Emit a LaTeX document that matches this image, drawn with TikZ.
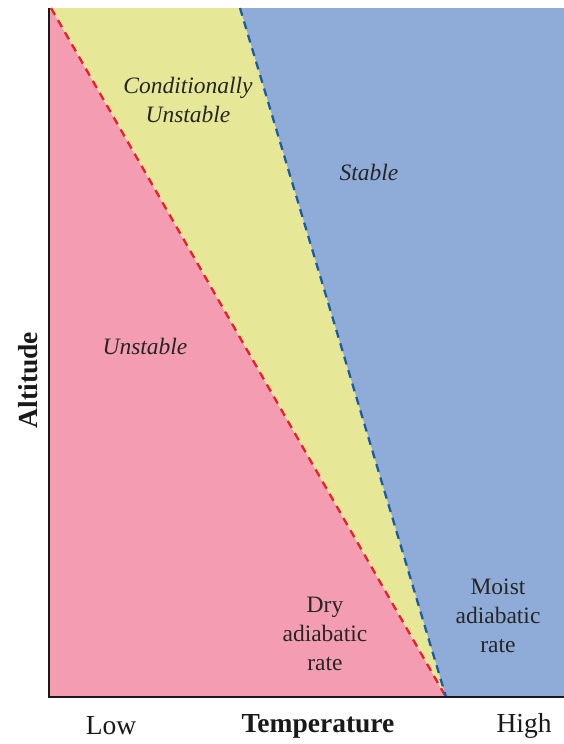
\documentclass[tikz,border=0pt]{standalone}
\usepackage{fontspec}
\setmainfont{Liberation Serif}
\usetikzlibrary{positioning, calc}

\definecolor{unstablefill}{HTML}{F49CB1}
\definecolor{condfill}{HTML}{E6E898}
\definecolor{stablefill}{HTML}{8FACD8}
\definecolor{dryline}{HTML}{E8202A}
\definecolor{moistline}{HTML}{1A5CA8}

\begin{document}
\begin{tikzpicture}[x=1pt, y=-1pt,
    zone/.style={font=\fontsize{23.5}{29}\selectfont\itshape, align=center, text=black!85},
    rate/.style={font=\fontsize{23.5}{29}\selectfont, align=center, text=black!85},
    axislabel/.style={font=\fontsize{27.5}{32}\selectfont, text=black!90},
    lapse/.style={dash pattern=on 8pt off 6pt, line width=2.3pt}]
      \useasboundingbox (0,0) rectangle (564,744);
      \coordinate (O) at (49,697);
      \coordinate (top) at (49,8);
      \coordinate (dry) at (51,8);
      \coordinate (moist) at (240,8);
      \coordinate (apex) at (446,697);
      \coordinate (ne) at (564,8);
      \coordinate (se) at (564,697);
      % regions
      \fill[unstablefill] (top) -- (dry) -- (apex) -- (O) -- cycle;
      \fill[condfill] (dry) -- (moist) -- (apex) -- cycle;
      \fill[stablefill] (moist) -- (ne) -- (se) -- (apex) -- cycle;
      % lapse rates
      \draw[lapse, dryline] (dry) -- (apex);
      \draw[lapse, moistline] (moist) -- (apex);
      % axes
      \draw[line width=2.8pt, black!90] (top) -- (O) -- (se);
      \node[zone] (cond) at (188,100) {Conditionally\\Unstable};
      \node[zone] (stable) at (369,172) {Stable};
      \node[zone] (unstable) at (145,346) {Unstable};
      \node[rate] (dryrate) at (325,634) {Dry\\adiabatic\\rate};
      \node[rate] (moistrate) at (498,616) {Moist\\adiabatic\\rate};
      \node[axislabel] (low) at (111,726) {Low};
      \node[axislabel, font=\fontsize{27.5}{32}\selectfont\bfseries] (temp) at (318,726) {Temperature};
      \node[axislabel] (high) at (524,726) {High};
      \node[axislabel, font=\fontsize{27.5}{32}\selectfont\bfseries, rotate=90] (alt) at (28,380) {Altitude};
    \end{tikzpicture}
\end{document}
